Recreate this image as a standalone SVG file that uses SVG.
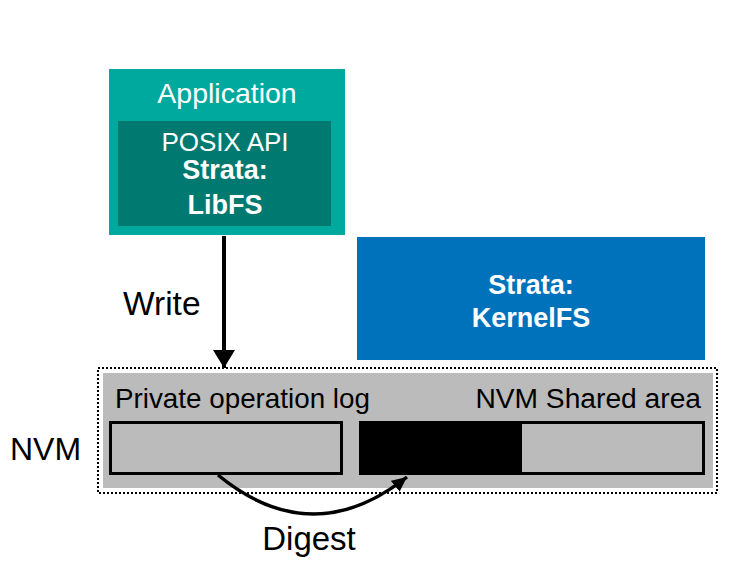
<svg xmlns="http://www.w3.org/2000/svg" width="750" height="587" viewBox="0 0 750 587">
<defs>
<style>
text{font-family:"Liberation Sans",Arial,sans-serif;}
.w{fill:#fff;text-anchor:middle;}
.b{font-weight:bold;}
.k{fill:#000;}
</style>
<marker id="ah" markerWidth="18" markerHeight="22" refX="18" refY="11" orient="auto" markerUnits="userSpaceOnUse" viewBox="0 0 18 22">
<path d="M0,0 L18,11 L0,22 Z" fill="#000"/>
</marker>
<marker id="ah2" markerWidth="15" markerHeight="14" refX="15" refY="7" orient="auto" markerUnits="userSpaceOnUse" viewBox="0 0 15 14">
<path d="M0,0 L15,7 L0,14 Z" fill="#000"/>
</marker>
</defs>
<rect width="750" height="587" fill="#fff"/>
<g id="application">
<rect x="109" y="69" width="236" height="166" fill="#00A99D"/>
<text class="w" x="227" y="103" font-size="28.5">Application</text>
<g id="libfs">
<rect x="118" y="121" width="213" height="105" fill="#007A70"/>
<text class="w" x="225" y="151" font-size="26">POSIX API</text>
<text class="w b" x="225" y="179" font-size="27">Strata:</text>
<text class="w b" x="225" y="214" font-size="27">LibFS</text>
</g>
</g>
<g id="kernelfs">
<rect x="357" y="237" width="348" height="123" fill="#0072BC"/>
<text class="w b" x="531" y="294" font-size="27">Strata:</text>
<text class="w b" x="531" y="327" font-size="27">KernelFS</text>
</g>
<g id="nvm">
<rect x="98" y="368" width="619" height="125" fill="none" stroke="#000" stroke-width="2" stroke-dasharray="2,2"/>
<rect x="103" y="373" width="610" height="115" fill="#BBBBBB"/>
<text class="k" x="115" y="408" font-size="27.8">Private operation log</text>
<text class="k" x="701" y="408" font-size="28.2" text-anchor="end">NVM Shared area</text>
<text class="k" x="10" y="460" font-size="32">NVM</text>
</g>
<g id="private-log">
<rect x="110.5" y="422.5" width="231" height="51" fill="#BBBBBB" stroke="#000" stroke-width="3"/>
</g>
<g id="shared-area">
<rect x="360.5" y="422.5" width="343" height="51" fill="#BBBBBB" stroke="#000" stroke-width="3"/>
<rect x="359" y="421" width="163" height="54" fill="#000"/>
</g>
<g id="connectors">
<line x1="224" y1="236" x2="224" y2="368" stroke="#000" stroke-width="4" marker-end="url(#ah)"/>
<path d="M218,475 Q312,552 407,477" fill="none" stroke="#000" stroke-width="3.5" marker-end="url(#ah2)"/>
</g>
<text class="k" x="123" y="315" font-size="33.5">Write</text>
<text class="k" x="309" y="550" font-size="33" text-anchor="middle">Digest</text>
</svg>
